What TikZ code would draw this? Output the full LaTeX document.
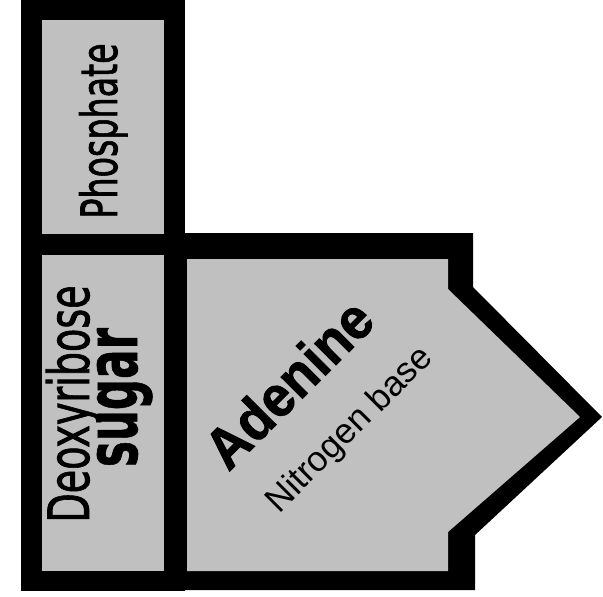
\documentclass[tikz,border=0pt]{standalone}
\usepackage{graphicx}
\usepackage{fontspec}
\usepackage{tikz}
\newfontfamily\handfont{DejaVu Sans}[FakeBold=1.6]
\newfontfamily\handbold{DejaVu Sans Bold}[FakeBold=1]
\newfontfamily\labelfont{Liberation Sans}
\newfontfamily\labelbold{Liberation Sans Bold}[FakeBold=1.5]
\definecolor{Silver}{HTML}{C0C0C0}

\begin{document}
\begin{tikzpicture}[x=0.75pt,y=-0.75pt,
    frame/.style={fill=black},
    panel/.style={fill=Silver},
    every node/.style={inner sep=0pt,anchor=base}]
  \useasboundingbox (0,0) rectangle (603,596);

  % black outlines
  \fill[frame] (21,0) rectangle (185,591);
  \fill[frame] (185,233) -- (473,233) -- (473,287) -- (602,417) -- (475,535)
    -- (475,590) -- (185,590) -- cycle;

  % grey panels
  \fill[panel] (42,20) rectangle (164,234);
  \fill[panel] (42,255) rectangle (164,571);
  \fill[panel] (187,259) -- (448,259) -- (448,289) -- (580,417) -- (448,532)
    -- (448,571) -- (187,571) -- cycle;

  % labels
  \node[rotate=90] (phosphate) at (117,131)
    {\handfont\fontsize{25}{30}\selectfont\scalebox{1}[1.5]{Phosphate}};
  \node[rotate=90] (deoxy) at (89,404)
    {\handfont\fontsize{28.6}{34}\selectfont\scalebox{1}[1.49]{Deoxyribose}};
  \node[rotate=90] (sugar) at (137,397.5)
    {\handbold\fontsize{32.7}{38}\selectfont\scalebox{1}[1.64]{sugar}};
  \node[rotate=45] (adenine) at (303,398)
    {\labelbold\fontsize{40}{44}\selectfont\scalebox{1}[1.08]{Adenine}};
  \node[rotate=45] (nbase) at (356.7,436.7)
    {\labelfont\fontsize{26.4}{30}\selectfont Nitrogen base};
\end{tikzpicture}
\end{document}
